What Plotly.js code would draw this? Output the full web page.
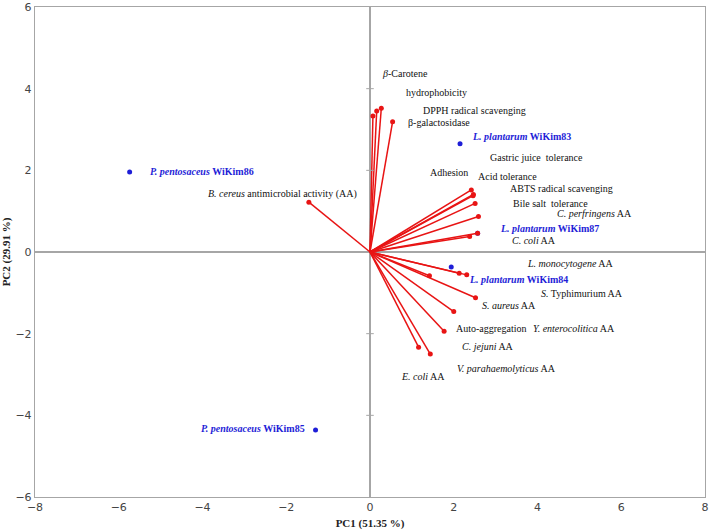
<!DOCTYPE html>
<html>
<head>
<meta charset="utf-8">
<script src="https://cdn.plot.ly/plotly-3.0.1.min.js"></script>
<style>html,body{margin:0;padding:0;background:#fff;}#chart{width:709px;height:532px;}</style>
</head>
<body>
<div id="chart"></div>
<script>
// ---- Data ----
// Variable loading vectors (PC1, PC2)
const varNames = [
  "β-Carotene", "hydrophobicity", "DPPH radical scavenging", "β-galactosidase",
  "Gastric juice tolerance", "Adhesion", "Acid tolerance", "ABTS radical scavenging",
  "Bile salt tolerance", "C. perfringens AA", "C. coli AA",
  "L. monocytogene AA", "S. Typhimurium AA", "S. aureus AA", "Y. enterocolitica AA",
  "Auto-aggregation", "C. jejuni AA", "V. parahaemolyticus AA", "E. coli AA",
  "B. cereus antimicrobial activity (AA)"
];
const varPC1 = [0.27, 0.16, 0.07, 0.54, 2.46, 2.42, 2.47, 2.51, 2.59, 2.57, 2.38,
                2.13, 2.31, 2.52, 2.00, 1.77, 1.44, 1.16, 1.42, -1.46];
const varPC2 = [3.52, 3.45, 3.33, 3.19, 1.38, 1.52, 1.41, 1.19, 0.87, 0.46, 0.38,
                -0.52, -0.56, -1.12, -1.46, -1.94, -2.50, -2.33, -0.58, 1.22];

// Strain scores (PC1, PC2)
const strainNames = ["P. pentosaceus WiKim86", "P. pentosaceus WiKim85", "L. plantarum WiKim83",
                     "L. plantarum WiKim84", "L. plantarum WiKim87"];
const strainPC1 = [-5.74, -1.30, 2.15, 1.94, 2.57];
const strainPC2 = [1.96, -4.36, 2.65, -0.37, 0.46];

// Label texts (rich text) and their anchor positions in data units
const varLabels = [
  "<i>β</i>-Carotene", "hydrophobicity", "DPPH radical scavenging", "β-galactosidase",
  "Gastric juice  tolerance", "Adhesion", "Acid tolerance", "ABTS radical scavenging",
  "Bile salt  tolerance", "<i>C. perfringens</i> AA", "<i>C. coli</i> AA",
  "<i>L. monocytogene</i> AA", "<i>S.</i> Typhimurium AA", "<i>S. aureus</i> AA", "<i>Y. enterocolitica</i> AA",
  "Auto-aggregation", "<i>C. jejuni</i> AA", "<i>V. parahaemolyticus</i> AA", "<i>E. coli</i> AA",
  "<i>B. cereus</i> antimicrobial activity (AA)"
];
const varLabelX = [0.26, 0.83, 1.23, 0.88, 2.83, 1.40, 2.55, 3.31, 3.39, 4.45, 3.37,
                   3.73, 4.06, 2.65, 3.87, 2.02, 2.17, 2.05, 0.72, -3.90];
const varLabelY = [4.37, 3.90, 3.47, 3.16, 2.32, 1.95, 1.85, 1.55, 1.18, 0.94, 0.28,
                   -0.27, -1.01, -1.32, -1.87, -1.87, -2.32, -2.86, -3.04, 1.42];

const strainLabels = ["<i>P. pentosaceus</i> WiKim86", "<i>P. pentosaceus</i> WiKim85",
                      "<i>L. plantarum</i> WiKim83", "<i>L. plantarum</i> WiKim84",
                      "<i>L. plantarum</i> WiKim87"];
const strainLabelX = [-5.28, -4.07, 2.41, 2.35, 3.09];
const strainLabelY = [1.98, -4.32, 2.83, -0.68, 0.58];

const xTicks = [-8, -6, -4, -2, 0, 2, 4, 6, 8];
const yTicks = [-6, -4, -2, 0, 2, 4, 6];

// ---- Styles ----
const RED = "rgb(232,20,20)";
const BLUE = "rgb(30,30,215)";
const GRAY = "#a6a6a6";
const SERIF = "Liberation Serif, Times New Roman, serif";

// ---- Traces ----
const lineX = [], lineY = [];
varPC1.forEach((v, i) => { lineX.push(0, v, null); lineY.push(0, varPC2[i], null); });

const traces = [
  { type: "scatter", mode: "markers", x: strainPC1, y: strainPC2, text: strainNames,
    marker: { color: BLUE, size: 5 }, hoverinfo: "text", showlegend: false },
  { type: "scatter", mode: "lines", x: lineX, y: lineY,
    line: { color: RED, width: 1.5 }, hoverinfo: "skip", showlegend: false },
  { type: "scatter", mode: "markers", x: varPC1, y: varPC2, text: varNames,
    marker: { color: RED, size: 5 }, hoverinfo: "text", showlegend: false }
];

// ---- Annotations ----
const annotations = [];
varLabels.forEach((t, i) => annotations.push({
  x: varLabelX[i], y: varLabelY[i], xref: "x", yref: "y", text: t, showarrow: false,
  xanchor: "left", yanchor: "middle", borderpad: 0,
  font: { family: SERIF, size: 10, color: "#111" }
}));
strainLabels.forEach((t, i) => annotations.push({
  x: strainLabelX[i], y: strainLabelY[i], xref: "x", yref: "y", text: "<b>" + t + "</b>", showarrow: false,
  xanchor: "left", yanchor: "middle", borderpad: 0,
  font: { family: SERIF, size: 10, color: BLUE }
}));

// small tick marks on the vertical zero line
const shapes = yTicks.filter(v => v !== 0 && Math.abs(v) < 6).map(v => ({
  type: "line", xref: "x", yref: "y", x0: -0.09, x1: 0.09, y0: v, y1: v,
  line: { color: GRAY, width: 1 }
}));

const layout = {
  width: 709, height: 532,
  margin: { l: 35, r: 4, t: 7, b: 35 },
  paper_bgcolor: "#fff", plot_bgcolor: "#fff",
  font: { family: "DejaVu Sans, sans-serif", size: 11, color: "#444" },
  xaxis: {
    range: [-8, 8], tickvals: xTicks, ticktext: xTicks.map(v => v < 0 ? "\u2212" + Math.abs(v) : String(v)),
    showgrid: false, zeroline: true, zerolinecolor: GRAY, zerolinewidth: 1.2,
    showline: true, mirror: true, linecolor: GRAY, linewidth: 1.2, ticks: "",
    tickfont: { family: "DejaVu Sans, sans-serif", size: 11, color: "#444" },
    automargin: false,
    title: { text: "<b>PC1 (51.35 %)</b>", font: { family: SERIF, size: 11, color: "#222" }, standoff: 5 }
  },
  yaxis: {
    range: [-6, 6], tickvals: yTicks, ticktext: yTicks.map(v => v < 0 ? "\u2212" + Math.abs(v) : String(v)),
    showgrid: false, zeroline: true, zerolinecolor: GRAY, zerolinewidth: 1.2,
    showline: true, mirror: true, linecolor: GRAY, linewidth: 1.2, ticks: "",
    tickfont: { family: "DejaVu Sans, sans-serif", size: 11, color: "#444" },
    automargin: false,
    title: { text: "<b>PC2 (29.91 %)</b>", font: { family: SERIF, size: 11, color: "#222" }, standoff: 4 }
  },
  annotations: annotations,
  shapes: shapes,
  showlegend: false
};

Plotly.newPlot("chart", traces, layout, { displayModeBar: false, staticPlot: true });
</script>
</body>
</html>
